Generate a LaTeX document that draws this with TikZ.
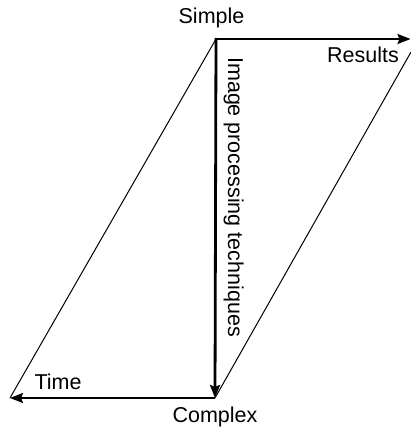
\documentclass[tikz,border=0pt]{standalone}
\usepackage{fontspec}
\setmainfont{Liberation Sans}
\usetikzlibrary{arrows.meta}
\begin{document}
\begin{tikzpicture}[x=1pt,y=1pt,
  thinline/.style={line width=1pt,black},
  axisarrow/.style={line width=2.2pt,black,-{Stealth[length=13pt,width=10pt,inset=2pt]}},
  lbl/.style={font=\fontsize{21.5}{25}\selectfont,inner sep=0pt}]
\useasboundingbox (0,0) rectangle (411,429);
\coordinate (S) at (216,390);
\coordinate (R) at (410.5,390);
\coordinate (C) at (215,31);
\coordinate (T) at (10,31);
\coordinate (Rt) at (411,377);
\draw[thinline] (S) -- (T);
\draw[thinline] (C) -- (Rt);
\draw[axisarrow] (S) -- (R);
\draw[axisarrow,line width=2.8pt] (216,391) -- (C);
\draw[axisarrow] (C) -- (T);
\node[lbl] (simple) at (211.5,411.5) {Simple};
\node[lbl] (results) at (363,374.5) {Results};
\node[lbl] (time) at (58,47.5) {Time};
\node[lbl] (complex) at (215,12.5) {Complex};
\node[lbl,rotate=-90,anchor=base] (ipt) at (228,232) {Image processing techniques};
\end{tikzpicture}
\end{document}
